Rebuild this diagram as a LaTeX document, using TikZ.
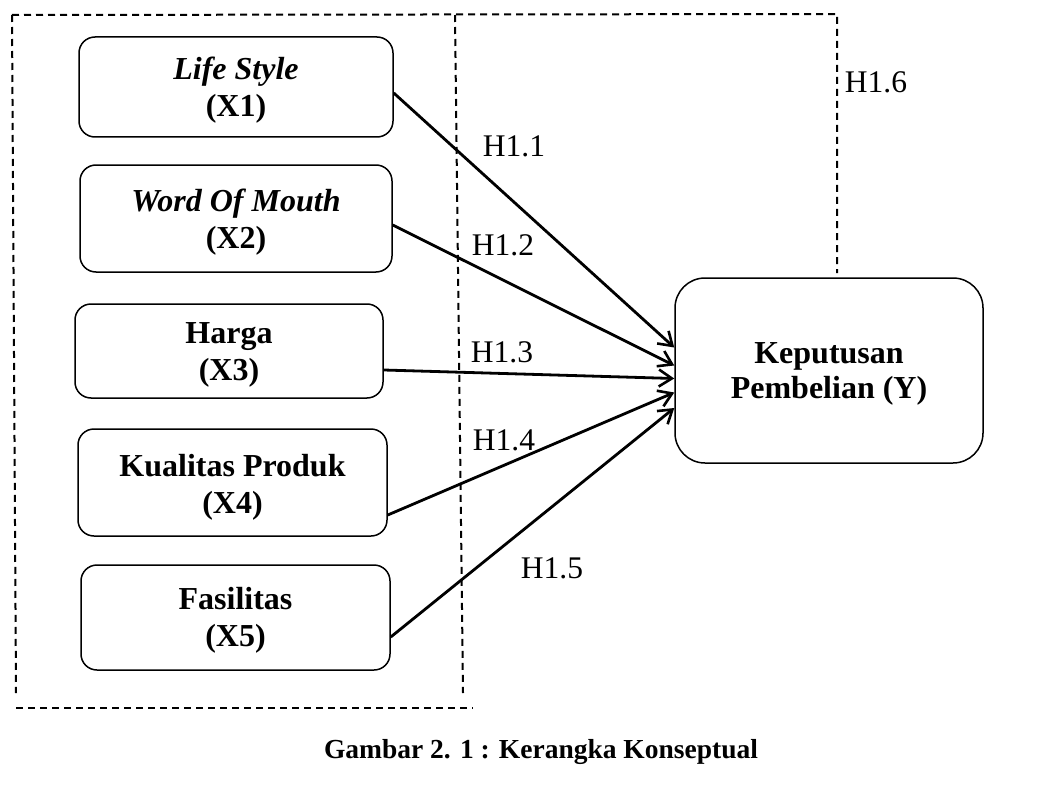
\documentclass[tikz,border=0pt]{standalone}
\usepackage{fontspec}
\setmainfont{Liberation Serif}
\usetikzlibrary{arrows.meta,calc}
\newcommand{\twolines}[3][4pt]{\raisebox{-#1}[\height][\depth]{\begin{tabular}{@{}c@{}}#2\\#3\end{tabular}}}
\begin{document}
\begin{tikzpicture}[x=1pt,y=-1pt,
  varbox/.style={draw=black,line width=1.5pt,rounded corners=16pt,align=center,
    font=\fontsize{32}{37}\selectfont\bfseries,inner sep=0pt},
  ybox/.style={varbox,rounded corners=30pt,font=\fontsize{32}{35}\selectfont\bfseries},
  link/.style={line width=2.8pt,-{Straight Barb[length=13pt,width=17pt,line width=2.6pt]}},
  hlabel/.style={font=\fontsize{31.5}{35}\selectfont,inner sep=0pt},
  dashline/.style={line width=2pt,dash pattern=on 7pt off 5pt}]
\useasboundingbox (0,0) rectangle (1060,789);
\fill[white] (0,0) rectangle (1060,789);
% dashed frames
\coordinate (tl) at (12,15);
\coordinate (tr) at (837,14);
\coordinate (trb) at (837,273);
\coordinate (lb) at (16,693);
\coordinate (mt) at (455,15);
\coordinate (mb) at (463,693);
\coordinate (bl) at (16,708);
\coordinate (br) at (473,708);
\draw[dashline] (tl) -- (tr) -- (trb);
\draw[dashline] (tl) -- (lb);
\draw[dashline] (mt) -- (mb);
\draw[dashline] (bl) -- (br);
% boxes
\node[varbox,minimum width=314pt,minimum height=100pt] (X1) at (236,87) {\twolines{\textit{Life Style}}{(X1)}};
\node[varbox,minimum width=312pt,minimum height=107pt] (X2) at (236,218.5) {\twolines{\textit{Word Of Mouth}}{(X2)}};
\node[varbox,minimum width=308pt,minimum height=94pt] (X3) at (229,351) {\twolines{Harga}{(X3)}};
\node[varbox,minimum width=309pt,minimum height=107pt] (X4) at (232.5,482.5) {\twolines[5pt]{Kualitas Produk}{(X4)}};
\node[varbox,minimum width=309pt,minimum height=105pt] (X5) at (235.5,617.5) {\twolines[3pt]{Fasilitas}{(X5)}};
\node[ybox,minimum width=308pt,minimum height=185pt] (Y) at (829,370.5) {\twolines[3pt]{Keputusan}{Pembelian (Y)}};
% arrows
\draw[link] ([yshift=-6pt]X1.east) -- ([yshift=23pt]Y.west);
\draw[link] ([yshift=-6.5pt]X2.east) -- ([yshift=5pt]Y.west);
\draw[link] ([yshift=-19pt]X3.east) -- ([yshift=-8pt]Y.west);
\draw[link] ([yshift=-32.5pt]X4.east) -- ([yshift=-22pt]Y.west);
\draw[link] ([yshift=-19.5pt]X5.east) -- ([yshift=-37.5pt]Y.west);
% labels
\node[hlabel] (h1) at (514,146) {H1.1};
\node[hlabel] (h2) at (503,245) {H1.2};
\node[hlabel] (h3) at (502,352) {H1.3};
\node[hlabel] (h4) at (504,440) {H1.4};
\node[hlabel] (h5) at (552,568) {H1.5};
\node[hlabel] (h6) at (876,82) {H1.6};
\node[font=\fontsize{27.5}{32}\selectfont\bfseries,inner sep=0pt] (cap) at (541,752) {Gambar 2. 1 : Kerangka Konseptual};
\end{tikzpicture}
\end{document}
